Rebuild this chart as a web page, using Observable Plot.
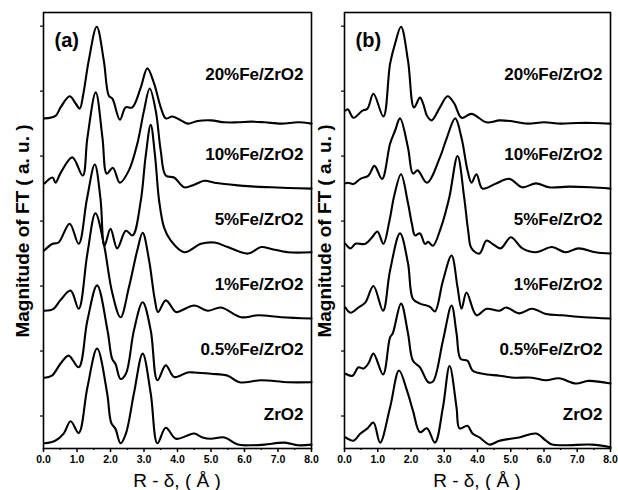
<!DOCTYPE html>
<html>
<head>
<meta charset="utf-8">
<script src="https://cdn.jsdelivr.net/npm/d3@7"></script>
<script src="https://cdn.jsdelivr.net/npm/@observablehq/plot@0.6"></script>
<style>
  html, body { margin: 0; padding: 0; background: #fff; }
  #wrap { position: relative; width: 618px; height: 490px; overflow: hidden; background: #fff;
          font-family: "Liberation Sans", Arial, sans-serif; color: #000; }
  .panel { position: absolute; top: 0; }
  .ylab { position: absolute; font-weight: bold; font-size: 19px; white-space: nowrap;
          transform: translate(-50%, -50%) rotate(-90deg); line-height: 1; }
  .xlab { position: absolute; font-size: 19px; white-space: nowrap;
          transform: translate(-50%, -50%); line-height: 1; }
</style>
</head>
<body>
<div id="wrap"></div>
<script>
// ---------- data (R in Å, magnitude in a.u. above each curve's own baseline) ----------
const names = ["ZrO2", "0.5%Fe/ZrO2", "1%Fe/ZrO2", "5%Fe/ZrO2", "10%Fe/ZrO2", "20%Fe/ZrO2"];
const offsets = [0, 1, 2, 3, 4, 5];
const xMajor = [0, 1, 2, 3, 4, 5, 6, 7, 8];
const xMinor = [0.5, 1.5, 2.5, 3.5, 4.5, 5.5, 6.5, 7.5];
const yTicks = [0.5, 1.5, 2.5, 3.5, 4.5, 5.5, 6.5];

// panel (a)
const a_ZrO2 = [[0.03,0.08],[0.35,0.12],[0.6,0.23],[0.81,0.42],[1.05,0.24],[1.31,0.94],[1.6,1.54],[1.9,0.85],[2.02,0.4],[2.15,0.3],[2.3,0.08],[2.46,0.23],[2.7,0.85],[2.96,1.46],[3.2,0.85],[3.4,0.08],[3.65,0.32],[3.95,0.15],[4.3,0.2],[4.5,0.23],[4.75,0.17],[5.0,0.15],[5.4,0.17],[5.8,0.06],[6.2,0.05],[6.6,0.06],[7.2,0.09],[7.6,0.05],[8.0,0.06]];
const a_05 = [[0.03,0.09],[0.25,0.12],[0.5,0.3],[0.75,0.43],[1.05,0.25],[1.31,0.97],[1.6,1.51],[1.91,0.82],[2.05,0.38],[2.15,0.3],[2.3,0.07],[2.46,0.15],[2.7,0.82],[2.96,1.25],[3.2,0.82],[3.4,0.05],[3.65,0.28],[3.9,0.1],[4.3,0.17],[4.5,0.17],[5.0,0.15],[5.5,0.12],[5.85,0.02],[6.5,0.05],[7.3,0.02],[8.0,0.02]];
const a_1 = [[0.03,0.12],[0.3,0.15],[0.5,0.28],[0.81,0.43],[1.05,0.15],[1.31,1.0],[1.55,1.62],[1.8,1.15],[2.05,0.4],[2.3,0.02],[2.55,0.48],[2.8,1.05],[2.96,1.32],[3.15,0.9],[3.32,0.3],[3.42,0.1],[3.65,0.28],[3.95,0.1],[4.1,0.12],[4.5,0.2],[4.9,0.12],[5.3,0.17],[5.9,0.02],[6.4,0.05],[7.1,0.02],[8.0,0.0]];
const a_5 = [[0.03,0.05],[0.27,0.15],[0.45,0.17],[0.78,0.46],[1.05,0.15],[1.3,0.85],[1.53,1.37],[1.7,0.85],[1.82,0.12],[2.0,0.38],[2.2,0.08],[2.46,0.35],[2.66,0.28],[2.9,0.8],[3.05,1.5],[3.2,1.98],[3.33,1.5],[3.45,0.82],[3.6,0.4],[3.8,0.2],[4.2,0.02],[4.7,0.15],[5.1,0.17],[5.5,0.1],[6.1,0.0],[6.5,0.1],[6.8,0.07],[7.3,0.02],[8.0,0.02]];
const a_10 = [[0.03,0.08],[0.27,0.17],[0.36,0.09],[0.5,0.23],[0.86,0.48],[1.17,0.2],[1.31,0.78],[1.56,1.48],[1.76,0.78],[1.89,0.23],[2.07,0.32],[2.28,0.09],[2.55,0.28],[2.8,0.69],[3.0,1.2],[3.17,1.54],[3.35,1.2],[3.5,0.58],[3.65,0.2],[3.9,0.17],[4.2,0.02],[4.5,0.06],[4.8,0.12],[5.1,0.09],[5.4,0.07],[5.8,0.05],[6.3,0.03],[6.8,0.02],[7.3,0.01],[8.0,0.0]];
const a_20 = [[0.03,0.08],[0.36,0.12],[0.51,0.25],[0.78,0.42],[0.96,0.31],[1.08,0.23],[1.19,0.46],[1.35,0.97],[1.59,1.49],[1.8,0.97],[1.95,0.43],[2.06,0.38],[2.28,0.06],[2.45,0.25],[2.65,0.25],[2.9,0.55],[3.1,0.85],[3.3,0.62],[3.5,0.25],[3.65,0.08],[3.85,0.11],[4.1,0.05],[4.3,0.0],[4.6,0.04],[5.0,0.05],[5.4,0.02],[5.8,0.02],[6.2,0.03],[6.6,0.02],[7.1,0.0],[7.6,0.02],[8.0,0.0]];

// panel (b)
const b_ZrO2 = [[0.03,0.17],[0.27,0.12],[0.48,0.23],[0.69,0.31],[0.87,0.4],[1.07,0.09],[1.37,0.63],[1.64,1.2],[1.88,0.89],[2.06,0.58],[2.27,0.25],[2.48,0.31],[2.72,0.09],[2.96,0.63],[3.16,1.27],[3.37,0.63],[3.46,0.31],[3.7,0.35],[3.85,0.23],[4.06,0.17],[4.36,0.06],[4.66,0.12],[5.25,0.17],[5.76,0.23],[6.06,0.12],[6.24,0.06],[6.65,0.05],[7.43,0.06],[8.0,0.02]];
const b_05 = [[0.03,0.15],[0.24,0.12],[0.42,0.25],[0.57,0.23],[0.72,0.31],[0.87,0.46],[1.16,0.14],[1.37,0.71],[1.45,0.77],[1.7,1.23],[1.91,0.77],[2.06,0.35],[2.27,0.25],[2.52,0.02],[2.66,0.03],[2.96,0.66],[3.22,1.2],[3.37,0.77],[3.49,0.38],[3.7,0.35],[3.85,0.2],[4.15,0.15],[4.66,0.12],[5.1,0.09],[5.64,0.09],[6.06,0.05],[6.45,0.08],[6.96,0.0],[7.34,0.04],[8.0,0.0]];
const b_1 = [[0.03,0.17],[0.18,0.09],[0.42,0.17],[0.63,0.25],[0.87,0.5],[1.16,0.12],[1.37,0.74],[1.67,1.31],[1.91,0.85],[2.06,0.3],[2.27,0.23],[2.57,0.18],[2.72,0.11],[2.96,0.58],[3.22,0.97],[3.4,0.48],[3.52,0.15],[3.67,0.4],[3.97,0.05],[4.27,0.15],[4.66,0.12],[4.86,0.17],[5.25,0.08],[5.64,0.15],[6.06,0.07],[6.54,0.05],[7.2,0.02],[8.0,0.0]];
const b_5 = [[0.03,0.15],[0.18,0.08],[0.33,0.15],[0.63,0.15],[0.83,0.25],[0.99,0.34],[1.17,0.15],[1.35,0.5],[1.5,0.9],[1.7,1.22],[1.9,0.8],[2.03,0.45],[2.12,0.28],[2.27,0.31],[2.42,0.15],[2.52,0.18],[2.66,0.12],[2.9,0.4],[3.15,0.86],[3.4,1.5],[3.6,0.86],[3.72,0.35],[3.82,0.08],[4.06,0.0],[4.27,0.2],[4.45,0.15],[4.7,0.08],[5.0,0.25],[5.35,0.08],[5.76,0.02],[6.24,0.1],[6.65,0.02],[7.04,0.08],[7.55,0.02],[8.0,0.0]];
const b_10 = [[0.03,0.08],[0.1,0.09],[0.27,0.07],[0.48,0.15],[0.72,0.2],[0.9,0.35],[1.13,0.15],[1.37,0.69],[1.52,0.89],[1.67,1.08],[1.91,0.63],[2.06,0.23],[2.2,0.28],[2.48,0.09],[2.87,0.48],[3.07,0.77],[3.33,1.08],[3.52,0.78],[3.7,0.28],[3.82,0.09],[3.97,0.22],[4.15,0.0],[4.56,0.08],[4.96,0.15],[5.34,0.02],[5.76,0.08],[6.15,0.02],[6.75,0.03],[7.4,0.02],[8.0,0.0]];
const b_20 = [[0.03,0.2],[0.1,0.22],[0.27,0.09],[0.54,0.2],[0.69,0.23],[0.87,0.46],[1.17,0.11],[1.37,0.92],[1.52,1.23],[1.7,1.49],[1.91,0.97],[2.09,0.25],[2.27,0.4],[2.37,0.3],[2.48,0.12],[2.62,0.05],[2.87,0.25],[3.1,0.42],[3.3,0.31],[3.52,0.09],[3.82,0.15],[4.27,0.02],[4.66,0.05],[5.0,0.04],[5.5,0.0],[6.0,0.02],[6.5,0.0],[7.0,0.01],[7.5,0.01],[8.0,0.0]];

const panelA = [a_ZrO2, a_05, a_1, a_5, a_10, a_20];
const panelB = [b_ZrO2, b_05, b_1, b_5, b_10, b_20];

// ---------- drawing ----------
const FONT = "'Liberation Sans', Arial, sans-serif";

function makePanel(series, tag, width, marginLeft, marginRight) {
  const rows = [];
  series.forEach((pts, i) => pts.forEach(([r, h]) => rows.push({name: names[i], r, y: h + offsets[i]})));
  const labels = names.map((n, i) => ({name: n, y: offsets[i] + (i === 5 ? 0.76 : 0.52)}));
  return Plot.plot({
    width, height: 490,
    marginLeft, marginRight, marginTop: 12, marginBottom: 42,
    style: {background: "transparent", overflow: "visible", maxWidth: "none", fontFamily: FONT, color: "#000"},
    x: {domain: [0, 8]},
    y: {domain: [0, 6.71]},
    marks: [
      Plot.axisX(xMajor, {tickSize: 4, tickPadding: 3, strokeWidth: 1.5, fontSize: 10.5, fontWeight: "bold",
                          tickFormat: d => d.toFixed(1), label: null}),
      Plot.axisX(xMinor, {tickSize: 2, strokeWidth: 1.2, tickFormat: () => "", label: null}),
      Plot.axisY(yTicks, {tickSize: 3, strokeWidth: 1.2, tickFormat: () => "", label: null}),
      Plot.line(rows, {x: "r", y: "y", z: "name", curve: "catmull-rom", stroke: "#000", strokeWidth: 2.1}),
      Plot.text(labels, {x: () => 7.76, y: "y", text: "name", textAnchor: "end",
                         fontSize: 17, fontWeight: "bold", fill: "#000"}),
      Plot.text([tag], {frameAnchor: "top-left", dx: 11, dy: 28, textAnchor: "start", lineAnchor: "middle",
                        fontSize: 20, fontWeight: "bold", fill: "#000"}),
      Plot.frame({stroke: "#000", strokeWidth: 1.6})
    ]
  });
}

const wrap = document.getElementById("wrap");
const pa = makePanel(panelA, "(a)", 316, 43, 5);
pa.classList.add("panel"); pa.style.left = "0px";
const pb = makePanel(panelB, "(b)", 318, 44, 8);
pb.classList.add("panel"); pb.style.left = "300px";
wrap.appendChild(pa);
wrap.appendChild(pb);

const yTitle = "Magnitude of FT ( a. u. )";
const xTitle = "R - δ, ( Å )";
[[22, 231], [324, 231]].forEach(([x, y]) => {
  const d = document.createElement("div");
  d.className = "ylab"; d.textContent = yTitle;
  d.style.left = x + "px"; d.style.top = y + "px";
  wrap.appendChild(d);
});
[[177, 480], [477, 480]].forEach(([x, y]) => {
  const d = document.createElement("div");
  d.className = "xlab"; d.textContent = xTitle;
  d.style.left = x + "px"; d.style.top = y + "px";
  wrap.appendChild(d);
});
</script>
</body>
</html>
